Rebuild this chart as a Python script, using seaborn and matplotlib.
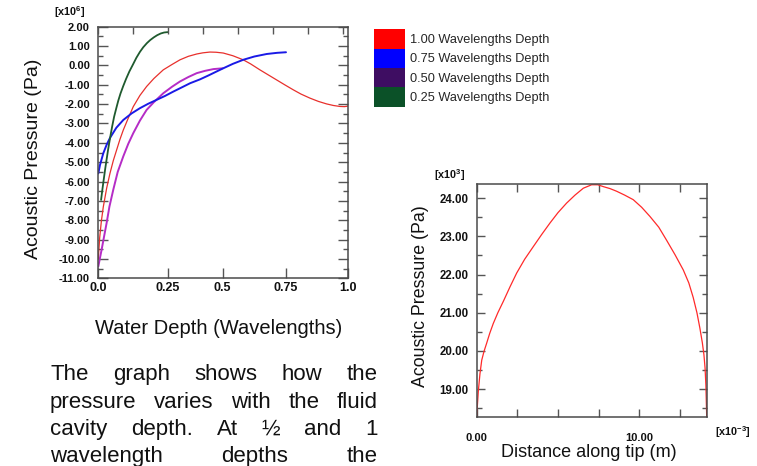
import numpy as np
import pandas as pd
import matplotlib
matplotlib.use("Agg")
import matplotlib.pyplot as plt
import seaborn as sns
from matplotlib.patches import Patch
from matplotlib.ticker import FixedLocator, MultipleLocator, FormatStrFormatter

# ---------------- data (left chart, pressure in 1e6 Pa) ----------------
series_labels = ["1.00 Wavelengths Depth", "0.75 Wavelengths Depth",
                 "0.50 Wavelengths Depth", "0.25 Wavelengths Depth"]

depth_100 = [0, 0.005, 0.011, 0.018, 0.03, 0.042, 0.054, 0.066, 0.078, 0.09, 0.108,
             0.126, 0.15, 0.174, 0.2, 0.234, 0.27, 0.306, 0.344, 0.382, 0.41, 0.442,
             0.47, 0.502, 0.54, 0.581, 0.61, 0.647, 0.68, 0.713, 0.746, 0.779, 0.81,
             0.846, 0.88, 0.913, 0.94, 0.966, 0.985, 1.0]
pres_100 = [-10.0, -8.9, -8.05, -7.31, -6.35, -5.58, -4.92, -4.37, -3.82, -3.34, -2.72,
            -2.13, -1.55, -1.09, -0.68, -0.23, 0.05, 0.29, 0.47, 0.59, 0.65, 0.69,
            0.68, 0.64, 0.5, 0.29, 0.08, -0.23, -0.49, -0.75, -1.01, -1.26, -1.48,
            -1.69, -1.86, -1.99, -2.07, -2.12, -2.13, -2.1]

depth_075 = [0, 0.006, 0.018, 0.03, 0.042, 0.065, 0.09, 0.12, 0.15, 0.18, 0.21, 0.24,
             0.276, 0.315, 0.352, 0.397, 0.435, 0.473, 0.502, 0.54, 0.581, 0.625,
             0.674, 0.715, 0.75]
pres_075 = [-5.58, -5.15, -4.54, -4.1, -3.75, -3.22, -2.82, -2.48, -2.21, -1.98, -1.78,
            -1.58, -1.35, -1.13, -0.92, -0.72, -0.52, -0.31, -0.15, 0.08, 0.29, 0.46,
            0.59, 0.65, 0.68]

depth_050 = [0, 0.006, 0.012, 0.02, 0.03, 0.04, 0.054, 0.07, 0.09, 0.108, 0.126, 0.15,
             0.174, 0.2, 0.234, 0.27, 0.306, 0.344, 0.382, 0.42, 0.458, 0.5]
pres_050 = [-10.39, -9.95, -9.52, -8.9, -8.14, -7.3, -6.42, -5.5, -4.7, -4.05, -3.5,
            -2.85, -2.3, -1.9, -1.44, -1.1, -0.83, -0.6, -0.4, -0.28, -0.19, -0.15]

depth_025 = [0.01, 0.015, 0.02, 0.025, 0.03, 0.035, 0.04, 0.045, 0.05, 0.057, 0.065,
             0.072, 0.08, 0.09, 0.1, 0.112, 0.125, 0.137, 0.15, 0.162, 0.175, 0.187,
             0.2, 0.212, 0.225, 0.237, 0.25]
pres_025 = [-6.95, -6.38, -5.85, -5.33, -4.85, -4.38, -3.95, -3.54, -3.15, -2.65, -2.2,
            -1.82, -1.45, -1.06, -0.7, -0.31, 0.05, 0.39, 0.7, 0.94, 1.15, 1.31,
            1.45, 1.56, 1.65, 1.7, 1.72]

x_tick_vals = [0, 0.25, 0.5, 0.75, 1.0]
x_tick_labels = ["0.0", "0.25", "0.5", "0.75", "1.0"]

# ---------------- data (right chart) ----------------
tip_dist = [0, 0.05, 0.1, 0.2, 0.31, 0.45, 0.61, 0.8, 1.02, 1.3, 1.64, 2.05, 2.46,
            2.95, 3.48, 4.0, 4.51, 5.0, 5.53, 6.05, 6.56, 7.07, 7.45, 7.8, 8.2, 8.61,
            9.1, 9.63, 10.15, 10.66, 11.2, 11.68, 12.2, 12.71, 13.05, 13.32, 13.55,
            13.73, 13.88, 13.98, 14.05, 14.1, 14.15]
tip_pres = [18.28, 18.62, 18.95, 19.4, 19.76, 19.99, 20.2, 20.46, 20.72, 21.0, 21.3,
            21.68, 22.04, 22.4, 22.73, 23.05, 23.35, 23.62, 23.87, 24.08, 24.26, 24.35,
            24.35, 24.3, 24.25, 24.18, 24.08, 23.96, 23.76, 23.52, 23.24, 22.9, 22.52,
            22.12, 21.78, 21.4, 21.0, 20.6, 20.22, 19.9, 19.55, 19.1, 18.28]

paragraph_lines = ["The graph shows how the",
                   "pressure varies with the fluid",
                   "cavity depth. At \u00bd and 1",
                   "wavelength depths the"]

# ---------------- styling ----------------
sns.set_style("white")
plt.rcParams["font.family"] = ["Liberation Sans", "DejaVu Sans"]
plt.rcParams["mathtext.fontset"] = "custom"
plt.rcParams["mathtext.rm"] = "Liberation Sans"
plt.rcParams["mathtext.bf"] = "Liberation Sans:bold"

W, H = 757, 466
fig = plt.figure(figsize=(W / 100, H / 100), dpi=100)
fig.patch.set_facecolor("white")

line_colors = {"1.00": "#e8302c", "0.75": "#1a1ae6", "0.50": "#b52cc6", "0.25": "#1f5a2e"}
legend_colors = ["#ff0000", "#0000ff", "#3e0d62", "#0b5128"]
spine_col = "#4a4a4a"
tick_col = "#555555"

# ================= left chart =================
ax = fig.add_axes([98.3 / W, 1 - 278.3 / H, 250 / W, 251.6 / H])

kn_d = [-1, 0, 0.25, 0.5, 0.75, 1.0, 2.0]
kn_f = [-1, 0, 0.2776, 0.4976, 0.7508, 1.0, 2.0]


def fwd(x):
    return np.interp(x, kn_d, kn_f)


def inv(y):
    return np.interp(y, kn_f, kn_d)


ax.set_xscale("function", functions=(fwd, inv))

df = pd.concat([
    pd.DataFrame({"depth": depth_100, "pressure": pres_100, "series": "1.00"}),
    pd.DataFrame({"depth": depth_050, "pressure": pres_050, "series": "0.50"}),
    pd.DataFrame({"depth": depth_075, "pressure": pres_075, "series": "0.75"}),
    pd.DataFrame({"depth": depth_025, "pressure": pres_025, "series": "0.25"}),
])
widths = {"1.00": 0.9, "0.50": 1.4, "0.75": 1.4, "0.25": 1.3}
for key in ["1.00", "0.50", "0.75", "0.25"]:
    sub = df[df["series"] == key]
    sns.lineplot(data=sub, x="depth", y="pressure", ax=ax, color=line_colors[key],
                 lw=widths[key], estimator=None, legend=False)

ax.set_xlim(0, 1)
ax.set_ylim(-11, 2)
ax.set_xticks(x_tick_vals, labels=x_tick_labels)
ax.xaxis.set_minor_locator(FixedLocator([]))
ax.yaxis.set_major_locator(MultipleLocator(1))
ax.yaxis.set_minor_locator(MultipleLocator(0.5))
ax.yaxis.set_major_formatter(FormatStrFormatter("%.2f"))

ax.tick_params(axis="x", which="major", direction="in", length=7, width=1,
               color=tick_col, bottom=True, top=False, labelsize=9, pad=2.5)
ax.tick_params(axis="y", which="major", direction="in", length=7, width=1,
               color=tick_col, left=True, right=True, labelsize=8, pad=6)
ax.tick_params(axis="y", which="minor", direction="in", length=3.5, width=1,
               color=tick_col, left=True, right=True)
for t in ax.get_xticklabels() + ax.get_yticklabels():
    t.set_fontweight("bold")
    t.set_color("#111111")
for s in ax.spines.values():
    s.set_color(spine_col)
    s.set_linewidth(1.1)

ax.set_xlabel("Water Depth (Wavelengths)", fontsize=14.5, va="center", color="#111111")
ax.xaxis.set_label_coords(0.483, -0.198)
ax.set_ylabel("Acoustic Pressure (Pa)", fontsize=14, va="center", color="#111111")
ax.yaxis.set_label_coords(-0.261, 0.474)

top = ax.twiny()
top.set_xlim(0, 1)
top.set_xticks(np.arange(0, 1.0, 0.14))
top.set_xticklabels([])
top.tick_params(axis="x", direction="in", length=5, width=1, color=tick_col, top=True)
for s in top.spines.values():
    s.set_visible(False)

fig.text(70 / W, 1 - 12 / H, r"[x10$^{\mathbf{6}}$]", fontsize=7.8, fontweight="bold",
         ha="center", va="center", color="#111111")

handles = [Patch(facecolor=c, edgecolor="none", label=l)
           for c, l in zip(legend_colors, series_labels)]
fig.legend(handles=handles, loc="upper left", bbox_to_anchor=(374 / W, 1 - 29.3 / H),
           frameon=False, borderpad=0, borderaxespad=0, handlelength=2.45,
           handleheight=1.95, labelspacing=0, handletextpad=0.38, fontsize=9.2)

# ================= right chart =================
ax2 = fig.add_axes([476.7 / W, 1 - 416.7 / H, 230 / W, 232.7 / H])
tip_df = pd.DataFrame({"dist": tip_dist, "pressure": tip_pres})
sns.lineplot(data=tip_df, x="dist", y="pressure", ax=ax2, color="#ff2a2a", lw=0.9,
             estimator=None, legend=False)
ax2.set_xlim(0, 14.15)
ax2.set_ylim(18.28, 24.37)
ax2.xaxis.set_major_locator(FixedLocator([0, 10]))
ax2.xaxis.set_minor_locator(MultipleLocator(2.5))
ax2.xaxis.set_major_formatter(FormatStrFormatter("%.2f"))
ax2.yaxis.set_major_locator(MultipleLocator(1))
ax2.yaxis.set_minor_locator(MultipleLocator(0.5))
ax2.yaxis.set_major_formatter(FormatStrFormatter("%.2f"))
ax2.tick_params(axis="x", which="both", direction="in", length=6, width=1,
                color=tick_col, bottom=True, top=True, labelsize=8, pad=12)
ax2.tick_params(axis="y", which="major", direction="in", length=6, width=1,
                color=tick_col, left=True, right=True, labelsize=8.3, pad=6)
ax2.tick_params(axis="y", which="minor", direction="in", length=3.5, width=1,
                color=tick_col, left=True, right=True)
for t in ax2.get_xticklabels() + ax2.get_yticklabels():
    t.set_fontweight("bold")
    t.set_color("#111111")
for s in ax2.spines.values():
    s.set_color(spine_col)
    s.set_linewidth(1.1)
ax2.set_xlabel("Distance along tip (m)", fontsize=13, va="center", color="#111111")
ax2.xaxis.set_label_coords(0.488, -0.155)
ax2.set_ylabel("Acoustic Pressure (Pa)", fontsize=12.8, va="center", color="#111111")
ax2.yaxis.set_label_coords(-0.2465, 0.519)

fig.text(450 / W, 1 - 175 / H, r"[x10$^{\mathbf{3}}$]", fontsize=7.8, fontweight="bold",
         ha="center", va="center", color="#111111")
fig.text(715 / W, 1 - 432 / H, r"[x10$^{\mathbf{-3}}$]", fontsize=7.8, fontweight="bold",
         ha="left", va="center", color="#111111")

# ================= justified paragraph =================
renderer = fig.canvas.get_renderer()
left_px, right_px = 50, 378
baselines = [380, 408.3, 435, 461.7]
for line, yb in zip(paragraph_lines, baselines):
    words = line.split()
    texts = [fig.text(0, 1 - yb / H, w, fontsize=16, va="baseline", ha="left",
                      color="#111111") for w in words]
    wds = [t.get_window_extent(renderer).width for t in texts]
    gap = (right_px - left_px - sum(wds)) / (len(words) - 1)
    x = left_px
    for t, wd in zip(texts, wds):
        t.set_x(x / W)
        x += wd + gap

fig.savefig("out.png", dpi=100)
